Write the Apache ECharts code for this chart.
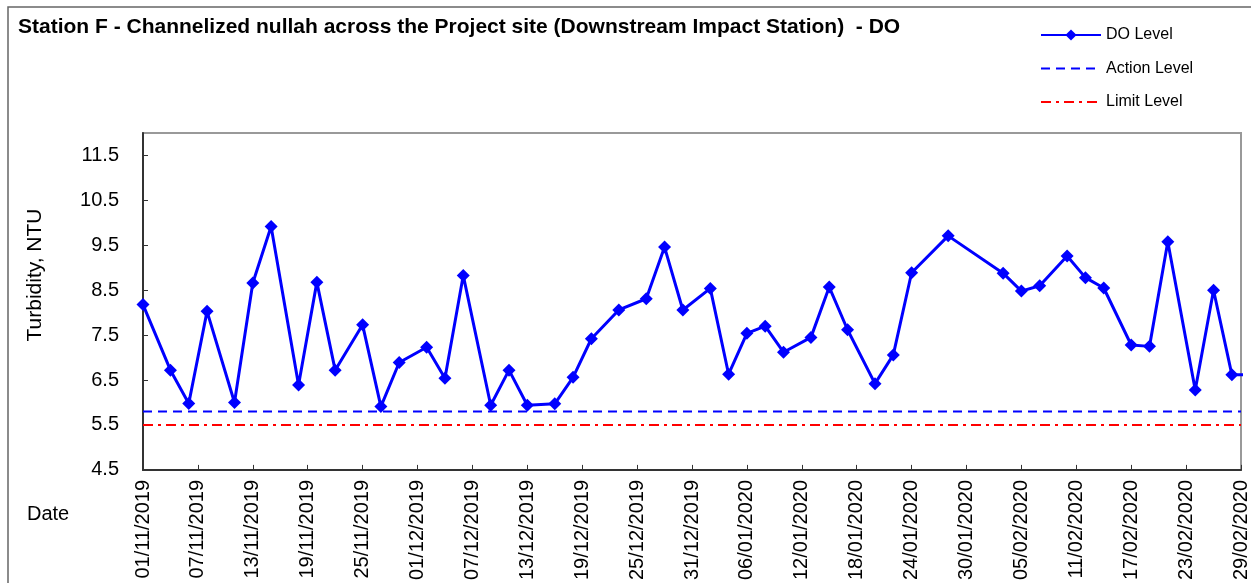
<!DOCTYPE html>
<html>
<head>
<meta charset="utf-8">
<script src="https://cdn.jsdelivr.net/npm/echarts@6/dist/echarts.min.js"></script>
<style>
  html, body { margin: 0; padding: 0; background: #fff; }
  #chart { width: 1251px; height: 583px; }
</style>
</head>
<body>
<div id="chart"></div>
<script>
// sampling dates (dd/mm/yyyy) and DO readings
const sampleDates = [
  '01/11/2019', '04/11/2019', '06/11/2019', '08/11/2019', '11/11/2019', '13/11/2019',
  '15/11/2019', '18/11/2019', '20/11/2019', '22/11/2019', '25/11/2019', '27/11/2019',
  '29/11/2019', '02/12/2019', '04/12/2019', '06/12/2019', '09/12/2019', '11/12/2019',
  '13/12/2019', '16/12/2019', '18/12/2019', '20/12/2019', '23/12/2019', '26/12/2019',
  '28/12/2019', '30/12/2019', '02/01/2020', '04/01/2020', '06/01/2020', '08/01/2020',
  '10/01/2020', '13/01/2020', '15/01/2020', '17/01/2020', '20/01/2020', '22/01/2020',
  '24/01/2020', '28/01/2020', '03/02/2020', '05/02/2020', '07/02/2020', '10/02/2020',
  '12/02/2020', '14/02/2020', '17/02/2020', '19/02/2020', '21/02/2020', '24/02/2020',
  '26/02/2020', '28/02/2020', '02/03/2020'
];
const doLevels = [
  8.18, 6.72, 5.98, 8.03, 6.00, 8.66,
  9.92, 6.39, 8.68, 6.72, 7.73, 5.91,
  6.89, 7.23, 6.54, 8.83, 5.94, 6.72,
  5.94, 5.97, 6.56, 7.42, 8.06, 8.31,
  9.46, 8.06, 8.54, 6.63, 7.54, 7.70,
  7.12, 7.45, 8.57, 7.62, 6.42, 7.06,
  8.89, 9.71, 8.88, 8.48, 8.60, 9.26,
  8.78, 8.55, 7.28, 7.25, 9.58, 6.28,
  8.50, 6.62, 6.62
];
const actionLevel = 5.8;
const limitLevel = 5.5;
const axisStart = '01/11/2019';
const axisEnd = '29/02/2020';

const DAY = 86400000;
function toUTC(s) {
  const p = s.split('/');
  return Date.UTC(+p[2], +p[1] - 1, +p[0]);
}
const t0 = toUTC(axisStart);
function dayOf(s) { return Math.round((toUTC(s) - t0) / DAY); }
function fmtDay(v) {
  const d = new Date(t0 + v * DAY);
  const dd = String(d.getUTCDate()).padStart(2, '0');
  const mm = String(d.getUTCMonth() + 1).padStart(2, '0');
  return dd + '/' + mm + '/' + d.getUTCFullYear();
}
const lastDay = dayOf(axisEnd);

const doData = sampleDates.map((s, i) => [dayOf(s), doLevels[i]]);
const actionData = [[0, actionLevel], [lastDay, actionLevel]];
const limitData = [[0, limitLevel], [lastDay, limitLevel]];

const font = 'Liberation Sans, Arial, sans-serif';
const noMarker = { color: 'rgba(0,0,0,0)', borderWidth: 0 };
const chart = echarts.init(document.getElementById('chart'));
chart.setOption({
  animation: false,
  textStyle: { fontFamily: font },
  title: {
    text: 'Station F - Channelized nullah across the Project site (Downstream Impact Station)  - DO',
    left: 13,
    top: 12,
    textStyle: { fontSize: 21, fontWeight: 'bold', color: '#000', fontFamily: font }
  },
  legend: {
    orient: 'vertical',
    left: 1035,
    top: 22,
    itemWidth: 60,
    itemHeight: 14,
    itemGap: 17.5,
    textStyle: { fontSize: 16, color: '#000', fontFamily: font },
    data: [
      { name: 'DO Level' },
      { name: 'Action Level', itemStyle: noMarker },
      { name: 'Limit Level', itemStyle: noMarker }
    ]
  },
  grid: {
    left: 143,
    right: 6,
    top: 133,
    bottom: 113,
    show: true,
    borderColor: '#999',
    borderWidth: 2
  },
  xAxis: {
    type: 'value',
    min: 0,
    max: lastDay,
    interval: 6,
    axisLine: { lineStyle: { color: '#333', width: 2 } },
    axisTick: { inside: true, length: 5, lineStyle: { color: '#333' } },
    splitLine: { show: false },
    axisLabel: {
      rotate: 90,
      fontSize: 20,
      color: '#000',
      margin: 10,
      fontFamily: font,
      formatter: fmtDay
    }
  },
  yAxis: {
    type: 'value',
    min: 4.5,
    max: 12,
    interval: 1,
    axisLine: { show: true, lineStyle: { color: '#333', width: 2 } },
    axisTick: { show: true, inside: true, length: 5, lineStyle: { color: '#333' } },
    splitLine: { show: false },
    axisLabel: {
      fontSize: 20,
      color: '#000',
      margin: 24,
      showMaxLabel: false,
      fontFamily: font,
      formatter: v => v.toFixed(1)
    }
  },
  graphic: [
    {
      type: 'rect',
      shape: { x: 8, y: 7, width: 1300, height: 700 },
      style: { fill: 'none', stroke: '#666', lineWidth: 1.5 },
      z: -1
    },
    {
      type: 'text',
      x: 35,
      y: 275,
      rotation: Math.PI / 2,
      style: {
        text: 'Turbidity, NTU',
        font: '21px ' + font,
        fill: '#000',
        align: 'center',
        verticalAlign: 'middle'
      }
    },
    {
      type: 'text',
      x: 27,
      y: 514,
      style: {
        text: 'Date',
        font: '20px ' + font,
        fill: '#000',
        align: 'left',
        verticalAlign: 'middle'
      }
    }
  ],
  series: [
    {
      name: 'DO Level',
      type: 'line',
      data: doData,
      clip: true,
      symbol: 'diamond',
      symbolSize: 13,
      itemStyle: { color: '#0000ff' },
      lineStyle: { color: '#0000ff', width: 3 },
      z: 5
    },
    {
      name: 'Action Level',
      type: 'line',
      data: actionData,
      symbol: 'none',
      itemStyle: { color: '#0000ff' },
      lineStyle: { color: '#0000ff', width: 2, type: [9, 6] }
    },
    {
      name: 'Limit Level',
      type: 'line',
      data: limitData,
      symbol: 'none',
      itemStyle: { color: '#ff0000' },
      lineStyle: { color: '#ff0000', width: 2, type: [10, 5, 3, 5] }
    }
  ]
});
</script>
</body>
</html>
